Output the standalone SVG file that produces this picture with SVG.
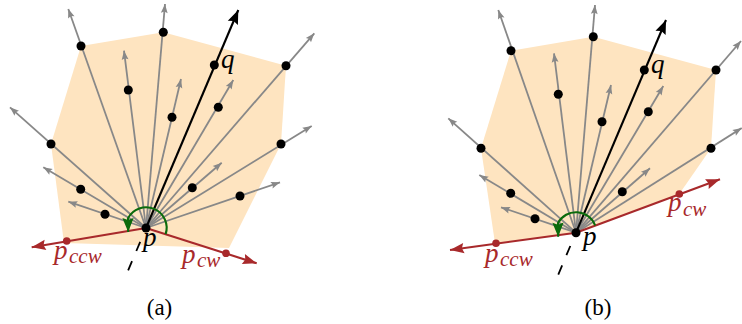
<svg xmlns="http://www.w3.org/2000/svg" width="742" height="324" viewBox="0 0 742 324">
<style>
.hull{fill:#fee4c0;stroke:none}
.ray{stroke:#888888;stroke-width:1.8;fill:none;marker-end:url(#ag)}
.qray{stroke:#000;stroke-width:2.1;fill:none;marker-end:url(#ab)}
.red{stroke:#a8292b;stroke-width:2.1;fill:none;marker-end:url(#ar)}
.dash{stroke:#000;stroke-width:1.8;fill:none;stroke-dasharray:10 11}
.arc{stroke:#0b6b0b;stroke-width:2.1;fill:none;marker-end:url(#agr)}
.dot{fill:#000}
.rdot{fill:#a8292b}
text{font-family:'Liberation Serif','Times New Roman',serif}
.lbl{font-style:italic;font-size:27px;fill:#000}
.rlbl{font-style:italic;font-size:27px;fill:#a8292b}
.sub{font-size:21px}
.cap{font-size:23px;fill:#000;text-anchor:middle}
</style>
<defs>
<marker id="ag" markerUnits="userSpaceOnUse" viewBox="-10 -5 11 10" markerWidth="11" markerHeight="10" refX="0" refY="0" orient="auto" overflow="visible"><path d="M0,0 L-9,-3.4 L-7.5,0 L-9,3.4 Z" fill="#888888"/></marker>
<marker id="ab" markerUnits="userSpaceOnUse" viewBox="-15 -7 16 14" markerWidth="16" markerHeight="14" refX="0" refY="0" orient="auto" overflow="visible"><path d="M0,0 L-14,-5.5 L-12,0 L-14,5.5 Z" fill="#000"/></marker>
<marker id="ar" markerUnits="userSpaceOnUse" viewBox="-15 -7 16 14" markerWidth="16" markerHeight="14" refX="0" refY="0" orient="auto" overflow="visible"><path d="M0,0 L-14,-5.2 L-12,0 L-14,5.2 Z" fill="#a8292b"/></marker>
<marker id="agr" markerUnits="userSpaceOnUse" viewBox="-15 -7 16 14" markerWidth="16" markerHeight="14" refX="0" refY="0" orient="auto" overflow="visible"><path d="M0,0 L-14,-5.6 L-12,0 L-14,5.6 Z" fill="#0b6b0b"/></marker>
</defs>

<g id="panel-a">
<polygon id="hull-a" class="hull" points="81,46 163.3,32.3 286,65.7 281,144 229,248 64,243 51,144"/>
<g id="connectors-a">
<line class="ray" x1="146" y1="228" x2="10" y2="107.3"/>
<line class="ray" x1="146" y1="228" x2="43.3" y2="167.3"/>
<line class="ray" x1="146" y1="228" x2="68.3" y2="201.7"/>
<line class="ray" x1="146" y1="228" x2="68.3" y2="9"/>
<line class="ray" x1="146" y1="228" x2="124" y2="50.7"/>
<line class="ray" x1="146" y1="228" x2="165" y2="4"/>
<line class="ray" x1="146" y1="228" x2="181" y2="79"/>
<line class="ray" x1="146" y1="228" x2="233.3" y2="80"/>
<line class="ray" x1="146" y1="228" x2="314.3" y2="33.3"/>
<line class="ray" x1="146" y1="228" x2="311.7" y2="126"/>
<line class="ray" x1="146" y1="228" x2="221.7" y2="162.7"/>
<line class="ray" x1="146" y1="228" x2="280" y2="182.3"/>
<line class="qray" x1="146" y1="228" x2="238.3" y2="10"/>
<line class="red" x1="146" y1="228" x2="31.7" y2="247.3"/>
<line class="red" x1="146" y1="228" x2="256.7" y2="263.3"/>
<line class="dash" x1="140.2" y1="241.8" x2="125.8" y2="275.9"/>
<path class="arc" d="M165.6,234.2 A20.5,20.5 0 0 0 128,218.2 L128.2,232"/>
</g>
<g id="a-v1"><circle class="dot" cx="51" cy="144" r="4.5"/></g>
<g id="a-v2"><circle class="dot" cx="80.7" cy="189.3" r="4.5"/></g>
<g id="a-v3"><circle class="dot" cx="105" cy="214.3" r="4.5"/></g>
<g id="a-v4"><circle class="dot" cx="81" cy="46" r="4.5"/></g>
<g id="a-v5"><circle class="dot" cx="128.3" cy="90" r="4.5"/></g>
<g id="a-v6"><circle class="dot" cx="163.3" cy="32.3" r="4.5"/></g>
<g id="a-v7"><circle class="dot" cx="172" cy="117.3" r="4.5"/></g>
<g id="a-q"><circle class="dot" cx="214.3" cy="65" r="4.5"/><text class="lbl" x="221" y="68">q</text></g>
<g id="a-v9"><circle class="dot" cx="218.3" cy="107.3" r="4.5"/></g>
<g id="a-v10"><circle class="dot" cx="286" cy="65.7" r="4.5"/></g>
<g id="a-v11"><circle class="dot" cx="281" cy="144" r="4.5"/></g>
<g id="a-v12"><circle class="dot" cx="192.3" cy="187.7" r="4.5"/></g>
<g id="a-v13"><circle class="dot" cx="240" cy="196" r="4.5"/></g>
<g id="a-p"><circle class="dot" cx="146" cy="228" r="4.5"/><text class="lbl" x="143" y="246">p</text></g>
<g id="a-pccw"><circle class="rdot" cx="66.7" cy="241" r="3.8"/><text class="rlbl"><tspan x="54" y="258.5">p</tspan><tspan class="sub" x="69" y="263">ccw</tspan></text></g>
<g id="a-pcw"><circle class="rdot" cx="226" cy="253.3" r="3.8"/><text class="rlbl"><tspan x="182" y="262.5">p</tspan><tspan class="sub" x="197" y="267">cw</tspan></text></g>
<text class="cap" x="159.5" y="315">(a)</text>
</g>

<g id="panel-b">
<polygon id="hull-b" class="hull" points="511,50.7 593.3,36.7 716,70 711,148.3 679.3,194 576,232.7 495,243.3 481,148.3"/>
<g id="connectors-b">
<line class="ray" x1="576" y1="232.7" x2="448.3" y2="118.3"/>
<line class="ray" x1="576" y1="232.7" x2="479.3" y2="175"/>
<line class="ray" x1="576" y1="232.7" x2="501" y2="207.3"/>
<line class="ray" x1="576" y1="232.7" x2="498.3" y2="10"/>
<line class="ray" x1="576" y1="232.7" x2="554" y2="53.3"/>
<line class="ray" x1="576" y1="232.7" x2="595" y2="5"/>
<line class="ray" x1="576" y1="232.7" x2="611" y2="85"/>
<line class="ray" x1="576" y1="232.7" x2="663.3" y2="86"/>
<line class="ray" x1="576" y1="232.7" x2="741" y2="41"/>
<line class="ray" x1="576" y1="232.7" x2="741.7" y2="128"/>
<line class="ray" x1="576" y1="232.7" x2="650" y2="168.3"/>
<line class="qray" x1="576" y1="232.7" x2="666" y2="20"/>
<line class="red" x1="576" y1="232.7" x2="450" y2="250"/>
<line class="red" x1="576" y1="232.7" x2="720" y2="179.3"/>
<line class="dash" x1="570.3" y1="246" x2="558.1" y2="275"/>
<path class="arc" d="M595.2,225.5 A20.5,20.5 0 0 0 558,222.9 L558.2,236.7"/>
</g>
<g id="b-v1"><circle class="dot" cx="481" cy="148.3" r="4.5"/></g>
<g id="b-v2"><circle class="dot" cx="510.7" cy="193.3" r="4.5"/></g>
<g id="b-v3"><circle class="dot" cx="535" cy="218.7" r="4.5"/></g>
<g id="b-v4"><circle class="dot" cx="511" cy="50.7" r="4.5"/></g>
<g id="b-v5"><circle class="dot" cx="558.3" cy="94.3" r="4.5"/></g>
<g id="b-v6"><circle class="dot" cx="593.3" cy="36.7" r="4.5"/></g>
<g id="b-v7"><circle class="dot" cx="602" cy="121.7" r="4.5"/></g>
<g id="b-q"><circle class="dot" cx="644.3" cy="70" r="4.5"/><text class="lbl" x="651" y="73">q</text></g>
<g id="b-v9"><circle class="dot" cx="648.3" cy="111.7" r="4.5"/></g>
<g id="b-v10"><circle class="dot" cx="716" cy="70" r="4.5"/></g>
<g id="b-v11"><circle class="dot" cx="711" cy="148.3" r="4.5"/></g>
<g id="b-v12"><circle class="dot" cx="622.3" cy="191.7" r="4.5"/></g>
<g id="b-p"><circle class="dot" cx="576" cy="232.7" r="4.5"/><text class="lbl" x="583" y="245">p</text></g>
<g id="b-pccw"><circle class="rdot" cx="496" cy="243.3" r="3.8"/><text class="rlbl"><tspan x="485" y="261.5">p</tspan><tspan class="sub" x="500" y="266">ccw</tspan></text></g>
<g id="b-pcw"><circle class="rdot" cx="679.3" cy="194" r="3.8"/><text class="rlbl"><tspan x="668" y="210.5">p</tspan><tspan class="sub" x="683" y="215.5">cw</tspan></text></g>
<text class="cap" x="598" y="315">(b)</text>
</g>
</svg>
